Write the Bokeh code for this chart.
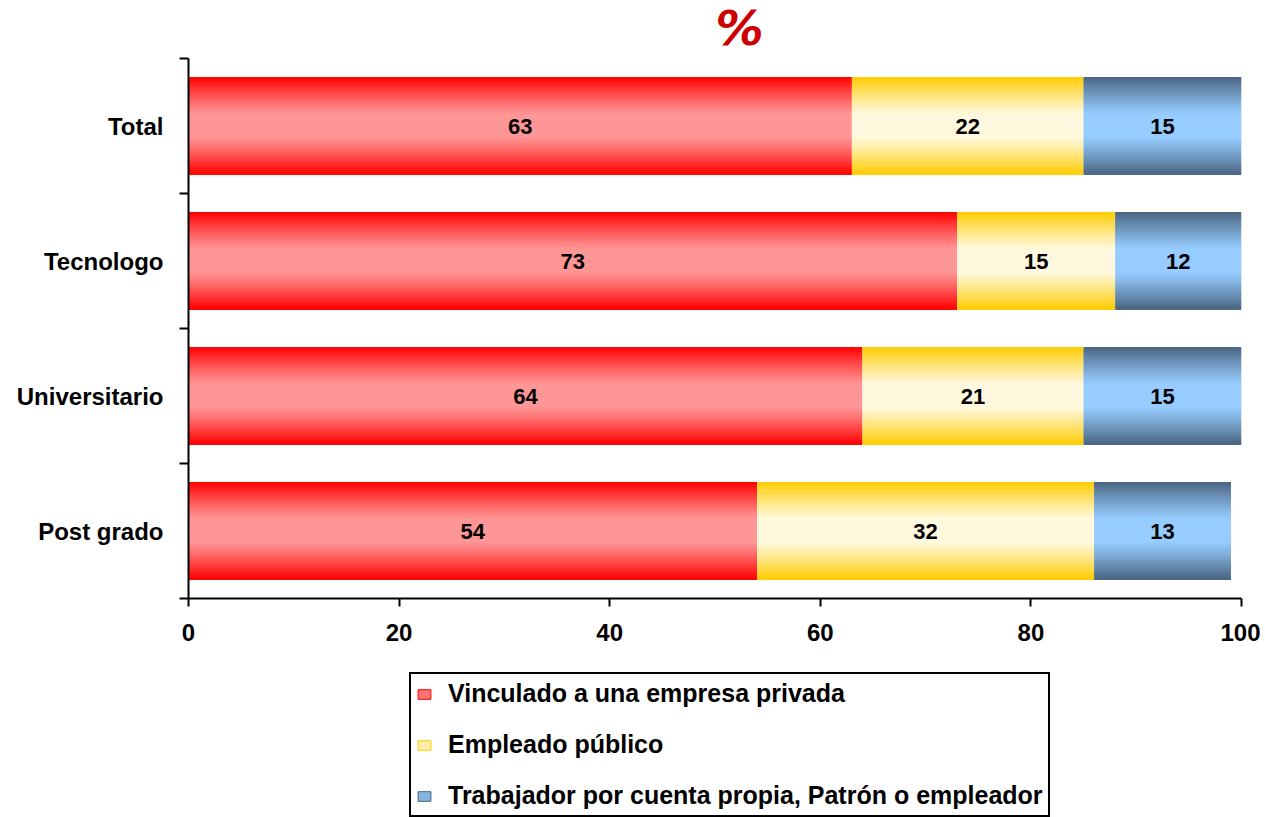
from bokeh.plotting import figure
from bokeh.layouts import column
from bokeh.models import (ColumnDataSource, Range1d, FixedTicker, Legend, LegendItem,
                          LabelSet, Label)
from bokeh.core.properties import value
from bokeh.embed import file_html
from bokeh.resources import INLINE

# ---------------- data ----------------
title_text = "%"
categories = ["Total", "Tecnologo", "Universitario", "Post grado"]
privada = [63, 73, 64, 54]
publico = [22, 15, 21, 32]
propia = [15, 12, 15, 13]
series_names = ["Vinculado a una empresa privada", "Empleado público",
                "Trabajador por cuenta propia, Patrón o empleador"]
x_ticks = [0, 20, 40, 60, 80, 100]

# ---------------- styling ----------------
FONT = "Liberation Sans"
edge_colors = [(255, 0, 0), (255, 204, 0), (74, 100, 128)]
center_colors = [(255, 150, 150), (255, 248, 222), (150, 204, 255)]
N_STRIPS = 40
BAR_H = 0.72
W = 1260
H0 = 54
H1 = 606
H2 = 157
LEFT = 188
RIGHT = W - 1241

ypos = [len(categories) - 1 - i for i in range(len(categories))]


def hexc(c):
    return "#%02x%02x%02x" % tuple(c)


def grad_color(edge, center, t):
    d = abs(t - 0.5) * 2
    f = max(0.0, (d - 0.22) / 0.78) ** 1.15
    return hexc([round(center[j] + (edge[j] - center[j]) * f) for j in range(3)])


def blank_fig(h):
    f = figure(width=W, height=h, output_backend="svg", toolbar_location=None,
               x_range=Range1d(0, 1), y_range=Range1d(0, 1),
               min_border_left=LEFT, min_border_right=RIGHT, min_border_top=0,
               min_border_bottom=0)
    f.axis.visible = False
    f.grid.visible = False
    f.outline_line_color = None
    f.border_fill_color = "white"
    return f


# ---------------- title strip ----------------
tf = blank_fig(H0)
tf.add_layout(Label(x=551, y=27, x_units="screen", y_units="screen", text=title_text,
                    text_align="center", text_baseline="middle",
                    text_font="DejaVu Sans", text_font_style="bold italic",
                    text_font_size="48px", text_line_height=1.0,
                    text_color="#cc0000"))

# ---------------- main chart ----------------
p = figure(width=W, height=H1, output_backend="svg", toolbar_location=None,
           x_range=Range1d(0, 100), y_range=Range1d(-0.5, len(categories) - 0.5),
           min_border_left=LEFT, min_border_right=RIGHT, min_border_top=4,
           min_border_bottom=H1 - 4 - 540)
p.outline_line_color = None
p.grid.visible = False
p.background_fill_color = "white"
p.border_fill_color = "white"

series = [privada, publico, propia]
lefts_all = []
for s, vals in enumerate(series):
    lefts = [sum(series[k][i] for k in range(s)) for i in range(len(categories))]
    lefts_all.append(lefts)
    rights = [lefts[i] + vals[i] for i in range(len(categories))]
    data = dict(y=[], left=[], right=[], h=[], color=[])
    for k in range(N_STRIPS):
        t = (k + 0.5) / N_STRIPS
        col = grad_color(edge_colors[s], center_colors[s], t)
        for i in range(len(categories)):
            data["y"].append(ypos[i] + BAR_H / 2 - (k + 0.5) * BAR_H / N_STRIPS)
            data["left"].append(lefts[i])
            data["right"].append(rights[i])
            data["h"].append(BAR_H / N_STRIPS + 0.006)
            data["color"].append(col)
    src = ColumnDataSource(data)
    p.hbar(y="y", left="left", right="right", height="h", source=src,
           fill_color="color", line_color=None)

# value labels
for s, vals in enumerate(series):
    lsrc = ColumnDataSource(dict(
        x=[lefts_all[s][i] + vals[i] / 2 for i in range(len(categories))],
        y=ypos, t=[str(v) for v in vals]))
    p.add_layout(LabelSet(x="x", y="y", text="t", source=lsrc,
                          text_align="center", text_baseline="middle",
                          text_font=value(FONT), text_font_style="bold",
                          text_font_size="22px", text_color="black"))

# axes
yax = p.yaxis[0]
yax.ticker = FixedTicker(ticks=ypos,
                         minor_ticks=[y + 0.5 for y in range(-1, len(categories))])
yax.major_label_overrides = {ypos[i]: categories[i] for i in range(len(categories))}
yax.major_tick_out = 0
yax.major_tick_in = 0
yax.minor_tick_out = 9
yax.minor_tick_in = 0
yax.minor_tick_line_width = 2
yax.minor_tick_line_color = "black"
yax.axis_line_width = 2
yax.axis_line_color = "black"
yax.major_label_standoff = 16
yax.major_label_text_font = FONT
yax.major_label_text_font_style = "bold"
yax.major_label_text_font_size = "24px"
yax.major_label_text_color = "black"

xax = p.xaxis[0]
xax.ticker = FixedTicker(ticks=x_ticks, minor_ticks=[])
xax.major_tick_out = 8
xax.major_tick_in = 0
xax.major_tick_line_width = 2
xax.axis_line_width = 2
xax.major_label_standoff = 17
xax.major_label_text_font = FONT
xax.major_label_text_font_style = "bold"
xax.major_label_text_font_size = "24px"
xax.major_label_text_color = "black"

# ---------------- legend strip ----------------
lg = blank_fig(H2)
items = []
for s in range(3):
    mid = grad_color(edge_colors[s], center_colors[s], 0.28)
    # swatch glyph only; the tiny rect sits hidden behind the legend box
    r = lg.hbar(y=[0.5], left=[0.5], right=[0.502], height=0.01,
                fill_color=mid, line_color=hexc(edge_colors[s]), line_width=1)
    items.append(LegendItem(label=series_names[s], renderers=[r]))

legend = Legend(items=items, location=(221, 0), orientation="vertical",
                label_text_font=FONT, label_text_font_style="bold",
                label_text_font_size="25px", label_text_color="black",
                glyph_width=16, glyph_height=12, label_height=22, spacing=22,
                label_standoff=16, padding=5, margin=0,
                border_line_color="black", border_line_width=2,
                border_line_alpha=1, background_fill_alpha=1)
lg.add_layout(legend, "center")

layout = column(tf, p, lg, spacing=0)
open("out.html", "w").write(file_html(layout, INLINE))
